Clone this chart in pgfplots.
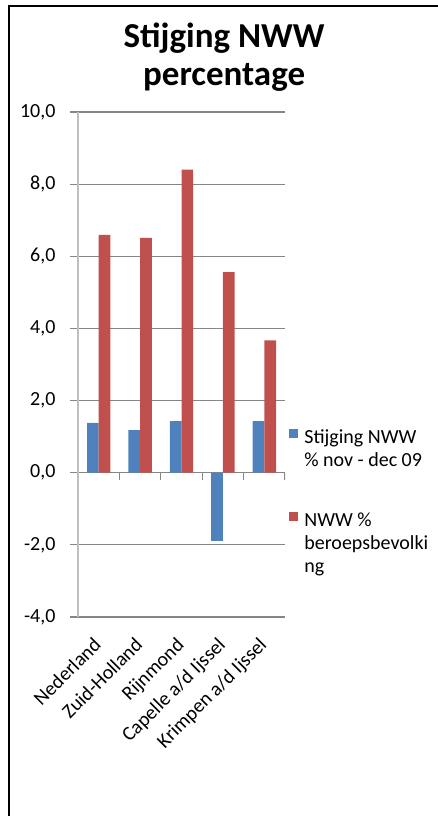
\documentclass[border=0pt]{standalone}
\usepackage{fontspec}
\setmainfont{Carlito}
\usepackage{pgfplots}
\pgfplotsset{compat=1.18}
\definecolor{xlblue}{HTML}{4F81BD}
\definecolor{xlred}{HTML}{C0504D}
\definecolor{gridc}{HTML}{868686}
\definecolor{axisc}{HTML}{BFBFBF}
\pgfplotsset{
  geom/.style={at={(78bp,199bp)}, anchor=south west,
    scale only axis, width=207bp, height=505bp,
    ymin=-4, ymax=10, xmin=-0.5, xmax=4.5},
  leg/.style={legend style={draw=none, fill=none, anchor=north west,
    font=\fontsize{20bp}{23bp}\selectfont, inner sep=0pt, nodes={inner sep=2bp}},
    legend cell align=left,
    legend image code/.code={\fill[##1,draw=none] (0bp,-1bp) rectangle (9bp,8bp);}},
}
\begin{document}
\begin{tikzpicture}[x=1bp,y=1bp]
\useasboundingbox (0,0) rectangle (438,816);
\draw[line width=1.6bp, black] (9,-5) -- (9,810) -- (445,810);
\begin{axis}[
  geom,
  ytick={-4,-2,...,10},
  xtick={0,...,4},
  xticklabels={Nederland,Zuid-Holland,Rijnmond,Capelle a/d Ijssel,Krimpen a/d Ijssel},
  separate axis lines,
  axis x line*=bottom, axis y line*=left,
  x axis line style={draw=none},
  y axis line style={draw=axisc, line width=2bp, -},
  xtick style={draw=none},
  ytick style={draw=gridc, line width=1.2bp},
  tick align=outside, major tick length=8bp,
  ymajorgrids, grid style={draw=gridc, line width=1.2bp},
  /pgf/number format/.cd, use comma, fixed, fixed zerofill, precision=1, assume math mode=true,
  /pgfplots/.cd,
  ticklabel style={font=\fontsize{20bp}{23bp}\selectfont, text=black},
  yticklabel style={xshift=-11bp},
  xticklabel style={rotate=45, anchor=north east, xshift=-9bp, yshift=0bp},
  ybar=0pt, bar width=11.7bp,
  title={Stijging NWW\\percentage},
  title style={at={(axis description cs:0.706,1.097)}, anchor=center, align=center,
    font=\fontsize{35bp}{38bp}\selectfont\bfseries},
  leg,
  legend style={at={(axis description cs:1.02,0.375)}},
]
\addplot[fill=xlblue, draw=none] coordinates {(0,1.38) (1,1.18) (2,1.43) (3,-1.89) (4,1.43)};
\addplot[fill=xlred, draw=none] coordinates {(0,6.59) (1,6.51) (2,8.40) (3,5.56) (4,3.67)};
\legend{{\hspace{4bp}\parbox[t]{128bp}{Stijging NWW\\\% nov - dec 09}}}
\pgfplotsinvokeforeach{0.5,1.5,2.5,3.5,4.5}{
  \draw[gridc, line width=1.2bp] (axis cs:#1,0) -- ([yshift=-7bp]axis cs:#1,0);
}
\end{axis}
\begin{axis}[geom, leg, hide axis,
  legend style={at={(axis description cs:1.02,0.2106)}}]
\addlegendimage{fill=xlred, draw=none}
\legend{{\hspace{4bp}\parbox[t]{128bp}{NWW \%\\beroepsbevolki\\ng}}}
\end{axis}
\end{tikzpicture}
\end{document}
